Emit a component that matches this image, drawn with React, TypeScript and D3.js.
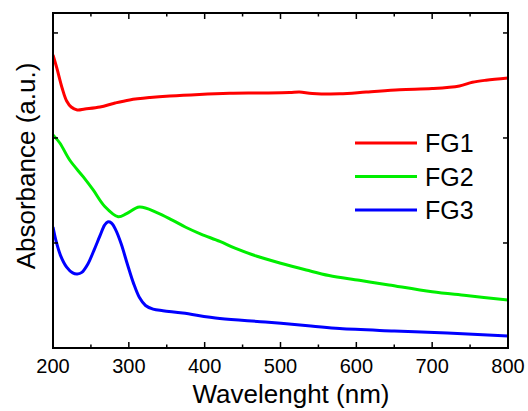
import React from "react";
import * as d3 from "d3";

const xTicksMajor = [200, 300, 400, 500, 600, 700, 800];
const xTicksMinor = [250, 350, 450, 550, 650, 750];
const yTicks = [0, 1, 2, 3];

const seriesNames = ["FG1", "FG2", "FG3"];
const seriesColors = ["#ff0000", "#00ee00", "#0000ff"];

const fg1: [number, number][] = [
  [200, 2.79], [205, 2.667], [212, 2.476], [218, 2.352], [224, 2.295], [232, 2.267],
  [242, 2.276], [262, 2.295], [282, 2.333], [301, 2.362], [328, 2.385], [354, 2.4],
  [393, 2.415], [433, 2.425], [472, 2.428], [512, 2.432], [525, 2.437], [542, 2.424],
  [578, 2.42], [613, 2.437], [657, 2.46], [700, 2.47], [736, 2.495], [753, 2.53],
  [771, 2.55], [800, 2.571],
];

const fg2: [number, number][] = [
  [200, 2.029], [209, 1.952], [222, 1.79], [240, 1.629], [253, 1.505], [268, 1.35],
  [286, 1.25], [297, 1.28], [314, 1.343], [337, 1.29], [358, 1.215], [375, 1.15],
  [395, 1.085], [420, 1.015], [440, 0.95], [468, 0.876], [499, 0.81], [534, 0.743],
  [564, 0.69], [604, 0.645], [643, 0.6], [700, 0.535], [745, 0.5], [800, 0.457],
];

const fg3: [number, number][] = [
  [200, 1.152], [204, 1.02], [210, 0.88], [218, 0.77], [226, 0.715], [232, 0.705],
  [238, 0.72], [246, 0.8], [254, 0.93], [262, 1.07], [268, 1.17], [272, 1.2],
  [277, 1.19], [283, 1.12], [290, 0.99], [298, 0.8], [306, 0.62], [314, 0.48],
  [322, 0.405], [332, 0.37], [345, 0.355], [371, 0.333], [420, 0.28], [480, 0.248],
  [540, 0.21], [578, 0.185], [650, 0.162], [720, 0.143], [800, 0.114],
];

const allSeries = [fg1, fg2, fg3];

export default function App() {
  const W = 528, H = 411;
  const left = 53, right = 508, top = 13, bottom = 348;
  const x = d3.scaleLinear().domain([200, 800]).range([left, right]);
  const y = d3.scaleLinear().domain([0, 3.19]).range([bottom, top]);
  const line = d3
    .line<[number, number]>()
    .x((d) => x(d[0]))
    .y((d) => y(d[1]))
    .curve(d3.curveCatmullRom.alpha(0.5));
  const font = "Arial, 'Liberation Sans', sans-serif";

  return (
    <svg width={W} height={H} style={{ position: "absolute", left: 0, top: 0 }} fontFamily={font}>
      <rect x={0} y={0} width={W} height={H} fill="#fff" />
      <defs>
        <clipPath id="plot">
          <rect x={left} y={top} width={right - left} height={bottom - top} />
        </clipPath>
      </defs>
      <g clipPath="url(#plot)">
        {allSeries.map((s, i) => (
          <path key={i} d={line(s) || ""} fill="none" stroke={seriesColors[i]} strokeWidth={3} strokeLinejoin="round" />
        ))}
      </g>
      <rect x={left} y={top} width={right - left} height={bottom - top} fill="none" stroke="#000" strokeWidth={2} />
      {xTicksMajor.map((t) => (
        <g key={"M" + t}>
          <line x1={x(t)} x2={x(t)} y1={bottom} y2={bottom - 6} stroke="#000" strokeWidth={1.5} />
          <line x1={x(t)} x2={x(t)} y1={top} y2={top + 6} stroke="#000" strokeWidth={1.5} />
          <text x={x(t)} y={373} textAnchor="middle" fontSize={20} fill="#000">{t}</text>
        </g>
      ))}
      {xTicksMinor.map((t) => (
        <g key={"m" + t}>
          <line x1={x(t)} x2={x(t)} y1={bottom} y2={bottom - 3.5} stroke="#000" strokeWidth={1.5} />
          <line x1={x(t)} x2={x(t)} y1={top} y2={top + 3.5} stroke="#000" strokeWidth={1.5} />
        </g>
      ))}
      {yTicks.map((t) => (
        <g key={"y" + t}>
          <line x1={left} x2={left + 5} y1={y(t)} y2={y(t)} stroke="#000" strokeWidth={1.5} />
          <line x1={right} x2={right - 5} y1={y(t)} y2={y(t)} stroke="#000" strokeWidth={1.5} />
        </g>
      ))}
      <text x={291} y={403} textAnchor="middle" fontSize={26} fill="#000">Wavelenght (nm)</text>
      <text transform={`translate(35,166) rotate(-90)`} textAnchor="middle" fontSize={26} fill="#000">Absorbance (a.u.)</text>
      {seriesNames.map((n, i) => (
        <g key={n}>
          <line x1={355} x2={417} y1={143 + i * 33.5} y2={143 + i * 33.5} stroke={seriesColors[i]} strokeWidth={3} />
          <text x={425} y={152 + i * 33.5} fontSize={25} fill="#000">{n}</text>
        </g>
      ))}
    </svg>
  );
}
